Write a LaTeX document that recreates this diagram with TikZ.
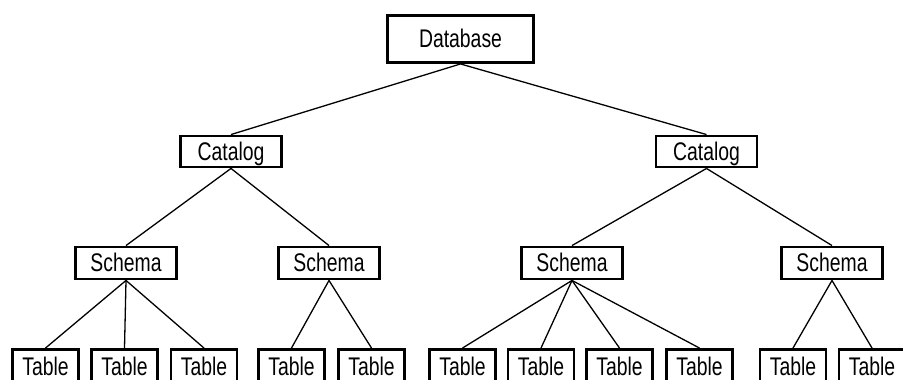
\documentclass[tikz,border=0pt]{standalone}
\usepackage{fontspec}
\setmainfont{Liberation Sans}[FakeStretch=0.76]
\begin{document}
\begin{tikzpicture}[x=1pt,y=-1pt,
  box/.style={draw=black, line width=2.9pt, inner sep=0pt, text height=17.5pt, text depth=0pt, font=\fontsize{25.5}{25.5}\selectfont},
  dbbox/.style={box, minimum width=146pt, minimum height=47pt},
  catbox/.style={box, minimum width=101pt, minimum height=31pt},
  schbox/.style={box, minimum width=101pt, minimum height=32pt},
  tblbox/.style={box, minimum width=66pt, minimum height=35pt},
  link/.style={draw=black, line width=1.3pt}]
\useasboundingbox (0,0) rectangle (903,380);
\fill[white] (0,0) rectangle (903,380);
\clip (0,0) rectangle (903,380);
% level 0
\node[dbbox] (db) at (460.5,39) {Database};
% level 1
\node[catbox] (catL) at (231,151.5) {Catalog};
\node[catbox] (catR) at (706.5,151.5) {Catalog};
% level 2
\node[schbox] (s1) at (126,263) {Schema};
\node[schbox] (s2) at (329,263) {Schema};
\node[schbox] (s3) at (572,263) {Schema};
\node[schbox] (s4) at (832,263) {Schema};
% level 3
\node[tblbox] (t1) at (45.5,367) {Table};
\node[tblbox] (t2) at (124.5,367) {Table};
\node[tblbox] (t3) at (204,367) {Table};
\node[tblbox] (t4) at (291.5,367) {Table};
\node[tblbox] (t5) at (371.5,367) {Table};
\node[tblbox] (t6) at (462.5,367) {Table};
\node[tblbox] (t7) at (541,367) {Table};
\node[tblbox] (t8) at (619.5,367) {Table};
\node[tblbox] (t9) at (699.5,367) {Table};
\node[tblbox] (t10) at (793,367) {Table};
\node[tblbox] (t11) at (872,367) {Table};
% connectors
\draw[link] (db.south) -- (catL.north);
\draw[link] (db.south) -- (catR.north);
\draw[link] (catL.south) -- (s1.north);
\draw[link] (catL.south) -- (s2.north);
\draw[link] (catR.south) -- (s3.north);
\draw[link] (catR.south) -- (s4.north);
\draw[link] (s1.south) -- (t1.north);
\draw[link] (s1.south) -- (t2.north);
\draw[link] (s1.south) -- (t3.north);
\draw[link] (s2.south) -- (t4.north);
\draw[link] (s2.south) -- (t5.north);
\draw[link] (s3.south) -- (t6.north);
\draw[link] (s3.south) -- (t7.north);
\draw[link] (s3.south) -- (t8.north);
\draw[link] (s3.south) -- (t9.north);
\draw[link] (s4.south) -- (t10.north);
\draw[link] (s4.south) -- (t11.north);
\end{tikzpicture}
\end{document}
